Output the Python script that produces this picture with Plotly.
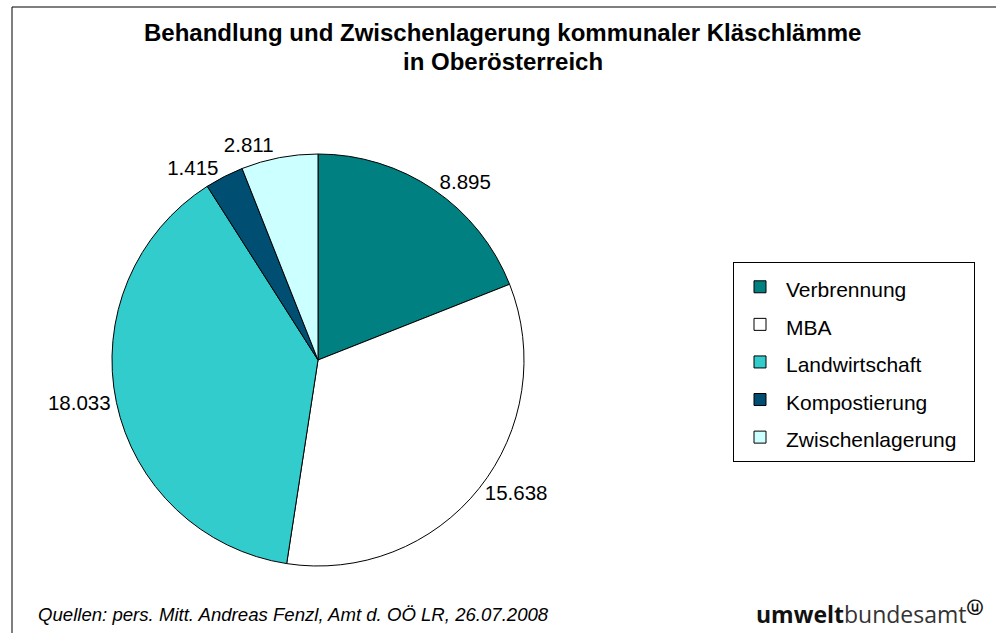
import plotly.graph_objects as go

categories = ["Verbrennung", "MBA", "Landwirtschaft", "Kompostierung", "Zwischenlagerung"]
values = [8895, 15638, 18033, 1415, 2811]
colors = ["#008080", "#FFFFFF", "#33CCCC", "#004E72", "#CCFFFF"]
value_labels = [f"{v:,}".replace(",", ".") for v in values]

W, H = 996, 633
FONT = "Arial, 'Liberation Sans', sans-serif"

def px(x):
    return x / W

def py(y):
    return 1 - y / H

# legend entries: text drawn at 21px while the legend row spacing follows a larger base size
legend_labels = [f'<span style="font-size:21px">{c}\u00a0\u00a0</span>' for c in categories]

fig = go.Figure()
fig.add_trace(go.Pie(
    labels=legend_labels,
    values=values,
    text=value_labels,
    customdata=categories,
    textinfo="text",
    textposition="outside",
    sort=False,
    direction="clockwise",
    rotation=0,
    marker=dict(colors=colors, line=dict(color="#000000", width=1)),
    textfont=dict(family=FONT, size=20.5, color="#000000"),
    domain=dict(x=[px(112), px(524)], y=[py(566), py(154)]),
    hovertemplate="%{customdata}: %{text}<extra></extra>",
))

fig.update_layout(
    width=W, height=H, autosize=False,
    margin=dict(l=0, r=0, t=0, b=0),
    paper_bgcolor="#FFFFFF",
    plot_bgcolor="#FFFFFF",
    font=dict(family=FONT, color="#000000"),
    showlegend=True,
    legend=dict(
        x=px(733), y=py(262), xanchor="left", yanchor="top",
        bordercolor="#000000", borderwidth=1,
        font=dict(family=FONT, size=26.6, color="#000000"),
        bgcolor="#FFFFFF",
        traceorder="normal",
        itemwidth=42,
    ),
    annotations=[
        dict(text="<b>Behandlung und Zwischenlagerung kommunaler Kläschlämme</b>",
             x=px(503), y=py(33), xref="paper", yref="paper", xanchor="center", yanchor="middle",
             showarrow=False, font=dict(family=FONT, size=24, color="#000000")),
        dict(text="<b>in Oberösterreich</b>",
             x=px(503), y=py(61), xref="paper", yref="paper", xanchor="center", yanchor="middle",
             showarrow=False, font=dict(family=FONT, size=24, color="#000000")),
        dict(text="<i>Quellen: pers. Mitt. Andreas Fenzl, Amt d. OÖ LR, 26.07.2008</i>",
             x=px(36), y=py(614), xref="paper", yref="paper", xanchor="left", yanchor="middle",
             showarrow=False, font=dict(family=FONT, size=18.6, color="#000000")),
        dict(text="<b>umwelt</b><span style='color:#333333'>bundesamt</span><sup><b>ⓤ</b></sup>",
             x=px(754), y=py(613), xref="paper", yref="paper", xanchor="left", yanchor="middle",
             showarrow=False, font=dict(family="'Open Sans', 'Noto Sans', sans-serif", size=23, color="#111111")),
    ],
    shapes=[
        dict(type="line", xref="paper", yref="paper", x0=px(12), x1=1, y0=py(7), y1=py(7),
             line=dict(color="#000000", width=1)),
        dict(type="line", xref="paper", yref="paper", x0=px(12), x1=px(12), y0=py(7), y1=0,
             line=dict(color="#000000", width=1)),
    ],
)

post = (
    "document.body.style.margin='0';document.body.style.padding='0';"
    "var s=document.createElement('style');s.textContent='path.textline{display:none}';"
    "document.head.appendChild(s);"
)
fig.write_html("out.html", config={"displayModeBar": False}, post_script=post)
